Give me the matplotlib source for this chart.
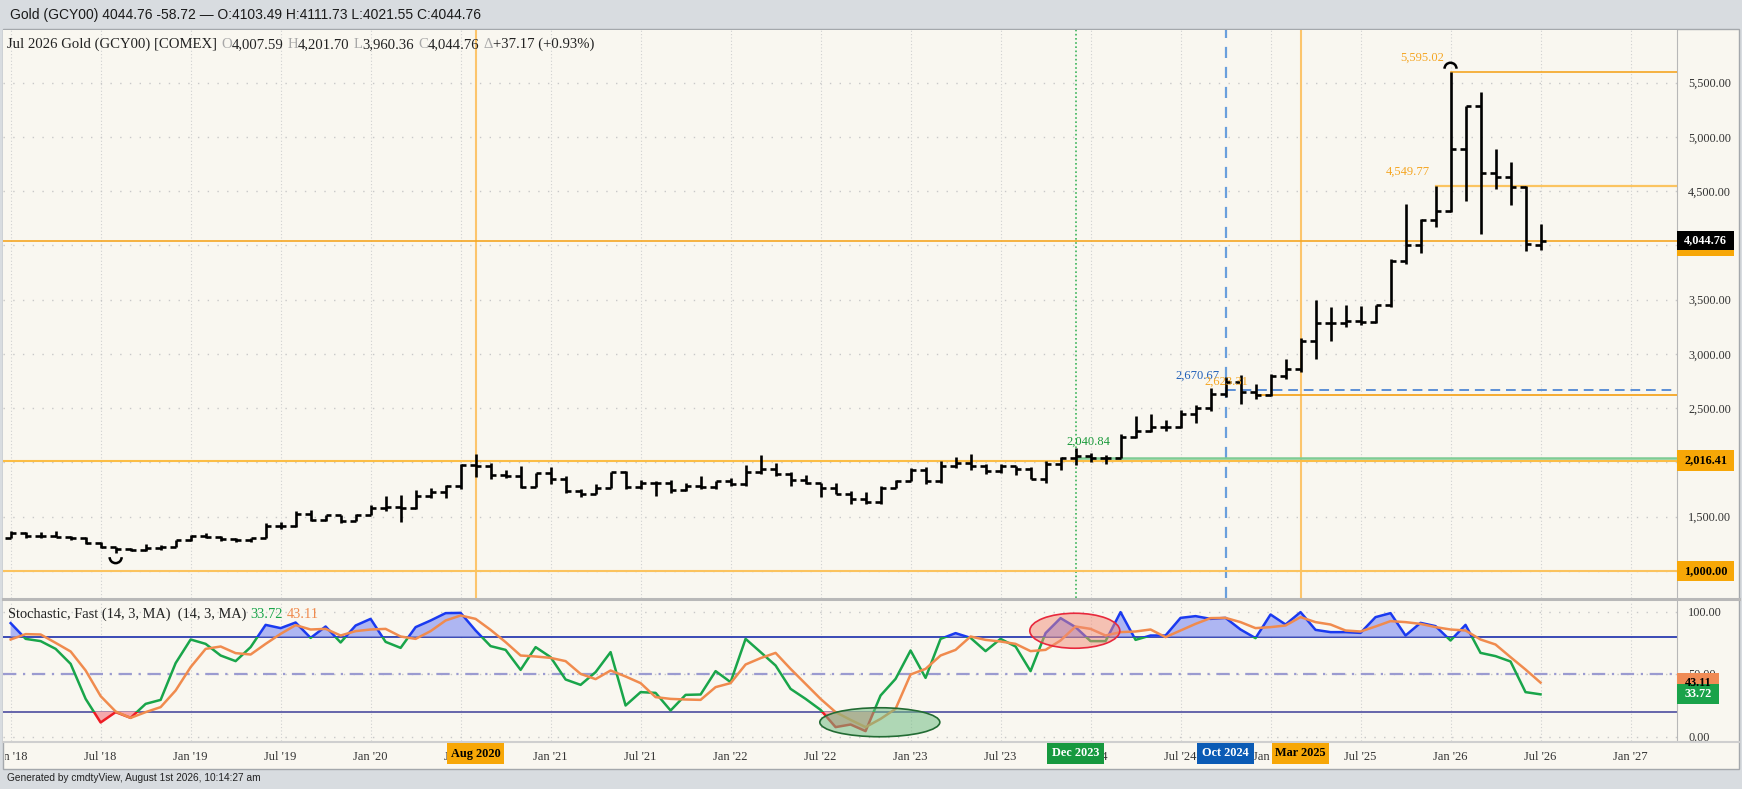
import numpy as np
import matplotlib.pyplot as plt
from matplotlib.patches import Rectangle, Ellipse, Arc
from matplotlib.lines import Line2D
from matplotlib.transforms import blended_transform_factory, IdentityTransform, Bbox

# Gold (GCY00) monthly bars, Jan 2018 .. Jul 2026
opens = [1302.5, 1345.2, 1318.4, 1324.7, 1315.4, 1298.5, 1252.6, 1223.7, 1201.0, 1192.5, 1214.9, 1221.5,
         1282.5, 1321.0, 1313.0, 1292.3, 1283.5, 1305.6, 1409.5, 1413.5, 1520.3, 1472.4, 1513.0, 1463.9,
         1517.3, 1582.9, 1585.7, 1577.2, 1686.2, 1730.3, 1781.0, 1975.9, 1967.6, 1886.9, 1879.1, 1776.5,
         1898.4, 1847.7, 1734.0, 1707.7, 1768.5, 1906.9, 1770.1, 1814.2, 1813.6, 1742.8, 1783.4, 1774.5,
         1829.2, 1796.4, 1909.0, 1937.4, 1896.9, 1837.7, 1807.3, 1765.9, 1711.6, 1660.6, 1633.6, 1768.5,
         1824.0, 1928.4, 1826.9, 1969.3, 1990.0, 1962.7, 1919.4, 1965.1, 1940.2, 1848.6, 1983.9, 2036.4,
         2062.9, 2039.5, 2044.2, 2229.9, 2286.0, 2327.3, 2326.7, 2447.6, 2503.4, 2634.6, 2743.9, 2650.1,
         2624.5, 2798.4, 2857.8, 3123.6, 3288.7, 3289.3, 3303.2, 3290.0, 3447.9, 3858.9, 4004.0, 4230.0,
         4320.0, 4889.0, 5288.0, 4665.0, 4628.0, 4541.0, 4007.59]
highs = [1366.1, 1361.6, 1356.0, 1365.2, 1326.0, 1309.2, 1265.9, 1224.0, 1214.0, 1243.4, 1237.5, 1284.7,
         1326.3, 1346.8, 1324.6, 1303.0, 1306.0, 1439.0, 1452.8, 1555.0, 1557.1, 1516.7, 1515.3, 1524.2,
         1611.4, 1689.3, 1703.4, 1747.7, 1765.2, 1789.1, 1981.3, 2075.1, 1992.3, 1933.3, 1965.4, 1906.5,
         1959.3, 1871.9, 1755.7, 1798.0, 1912.9, 1916.6, 1834.0, 1832.4, 1834.0, 1813.9, 1877.2, 1831.5,
         1853.9, 1974.4, 2070.4, 1998.4, 1909.8, 1879.4, 1814.2, 1807.9, 1735.2, 1729.6, 1786.5, 1833.4,
         1949.2, 1959.7, 2009.7, 2048.8, 2081.8, 1983.5, 1987.5, 1966.0, 1953.0, 2009.5, 2052.0, 2135.4,
         2088.5, 2065.5, 2265.5, 2431.3, 2450.1, 2387.8, 2483.7, 2531.8, 2685.6, 2790.1, 2801.8, 2726.2,
         2817.1, 2956.2, 3148.9, 3500.1, 3435.3, 3451.5, 3439.2, 3452.9, 3871.3, 4381.5, 4245.0, 4549.77,
         5595.02, 5288.0, 5417.0, 4886.0, 4772.0, 4548.0, 4201.70]
lows = [1302.0, 1307.1, 1303.6, 1310.2, 1282.3, 1245.9, 1211.0, 1160.4, 1180.0, 1182.5, 1196.2, 1221.4,
        1276.0, 1302.0, 1280.0, 1266.0, 1266.5, 1301.0, 1382.6, 1400.5, 1459.2, 1458.9, 1445.7, 1455.5,
        1517.0, 1548.0, 1451.0, 1567.0, 1670.7, 1670.8, 1757.6, 1863.2, 1848.8, 1859.6, 1764.6, 1775.7,
        1802.8, 1717.2, 1676.9, 1704.9, 1765.0, 1750.8, 1750.5, 1687.8, 1721.7, 1740.0, 1758.9, 1753.3,
        1780.6, 1786.0, 1890.0, 1872.2, 1786.9, 1805.0, 1680.9, 1709.7, 1614.9, 1617.3, 1616.7, 1765.4,
        1824.0, 1804.8, 1809.5, 1949.2, 1932.1, 1893.1, 1902.8, 1884.9, 1846.4, 1810.5, 1931.6, 1973.1,
        2001.9, 1984.3, 2039.1, 2228.3, 2277.2, 2286.8, 2319.6, 2364.2, 2471.9, 2603.9, 2536.9, 2583.3,
        2614.6, 2772.0, 2832.7, 2956.7, 3120.8, 3246.6, 3268.0, 3281.2, 3436.4, 3830.0, 3933.0, 4173.0,
        4310.0, 4410.0, 4105.0, 4517.0, 4373.0, 3952.0, 3960.36]
closes = [1345.2, 1318.4, 1324.7, 1315.4, 1298.5, 1252.6, 1223.7, 1201.0, 1192.5, 1214.9, 1221.5, 1282.5,
          1321.0, 1313.0, 1292.3, 1283.5, 1305.6, 1409.5, 1413.5, 1520.3, 1472.4, 1513.0, 1463.9, 1517.3,
          1582.9, 1585.7, 1577.2, 1686.2, 1730.3, 1781.0, 1975.9, 1967.6, 1886.9, 1879.1, 1776.5, 1898.4,
          1847.7, 1734.0, 1707.7, 1768.5, 1906.9, 1770.1, 1814.2, 1813.6, 1742.8, 1783.4, 1774.5, 1829.2,
          1796.4, 1909.0, 1937.4, 1896.9, 1837.7, 1807.3, 1765.9, 1711.6, 1660.6, 1633.6, 1768.5, 1824.0,
          1928.4, 1826.9, 1969.3, 1990.0, 1962.7, 1919.4, 1965.1, 1940.2, 1848.6, 1983.9, 2036.4, 2062.9,
          2039.5, 2044.2, 2229.9, 2286.0, 2327.3, 2326.7, 2447.6, 2503.4, 2634.6, 2743.9, 2650.1, 2624.5,
          2798.4, 2857.8, 3123.6, 3288.7, 3289.3, 3303.2, 3290.0, 3447.9, 3858.9, 4004.0, 4230.0, 4320.0,
          4889.0, 5288.0, 4665.0, 4628.0, 4541.0, 4010.0, 4044.76]

# Stochastic, Fast (14, 3, MA): %K and %D per month
stoch_k = [90.7, 78.1, 76.3, 70.1, 58.1, 30.1, 11.2, 19.5, 14.9, 26.1, 29.3, 58.7,
           77.6, 74.1, 64.8, 60.3, 71.5, 89.3, 86.7, 91.2, 78.9, 88.0, 75.2, 88.8,
           94.1, 75.7, 70.9, 87.5, 92.8, 98.7, 98.9, 84.8, 72.3, 69.3, 53.3, 71.5,
           63.5, 45.6, 41.3, 51.5, 67.5, 24.8, 35.5, 34.9, 20.8, 33.3, 33.6, 52.3,
           43.5, 78.1, 67.5, 56.8, 38.1, 30.1, 21.3, 7.5, 9.6, 4.3, 32.8, 46.1,
           68.8, 46.9, 78.1, 82.7, 78.9, 68.3, 78.1, 72.0, 52.3, 82.7, 94.7, 87.5,
           76.3, 76.3, 99.5, 77.3, 80.8, 80.8, 94.9, 96.3, 94.1, 94.9, 85.6, 78.7,
           97.6, 89.6, 99.5, 85.3, 83.5, 83.5, 82.9, 95.5, 98.7, 80.8, 90.9, 88.3,
           76.8, 89.3, 66.9, 64.3, 60.0, 35.5, 33.72]
stoch_d = [77.6, 81.9, 81.6, 74.9, 68.0, 52.8, 32.3, 20.0, 14.9, 19.5, 23.5, 36.8,
           55.5, 70.1, 72.0, 66.7, 65.6, 74.1, 82.1, 89.1, 85.6, 86.1, 80.8, 84.3,
           85.6, 86.1, 80.0, 78.1, 84.3, 92.8, 96.8, 94.1, 85.3, 75.5, 64.8, 64.0,
           62.9, 60.3, 50.1, 45.9, 52.8, 48.0, 42.7, 31.5, 30.1, 29.6, 29.3, 39.5,
           42.7, 57.6, 62.7, 66.9, 54.1, 42.1, 30.1, 19.5, 13.3, 7.5, 14.1, 22.1,
           49.6, 54.1, 64.8, 69.3, 80.0, 77.3, 76.0, 74.1, 68.3, 69.3, 76.8, 88.0,
           86.1, 80.8, 83.5, 84.0, 85.6, 79.5, 84.8, 90.1, 94.7, 94.9, 91.5, 86.7,
           87.5, 88.8, 95.5, 91.5, 89.6, 84.8, 84.0, 88.0, 92.3, 91.5, 90.1, 87.5,
           85.6, 84.8, 77.6, 73.6, 63.5, 53.6, 43.11]

tick_months = list(range(0, 109, 6))
tick_labels = ["Jan '18", "Jul '18", "Jan '19", "Jul '19", "Jan '20", "Jul '20", "Jan '21",
               "Jul '21", "Jan '22", "Jul '22", "Jan '23", "Jul '23", "Jan '24", "Jul '24",
               "Jan '25", "Jul '25", "Jan '26", "Jul '26", "Jan '27"]

# highlighted dates (month index from Jan 2018)
event_months = [31, 71, 81, 86]
event_labels = ["Aug 2020", "Dec 2023", "Oct 2024", "Mar 2025"]

# drawn price levels that start at a bar and run to the right edge
level_prices = [5595.02, 4549.77, 2670.67, 2623.31, 2040.84]
level_starts = [96, 95, 81, 83, 71]
level_texts = ["5,595.02", "4,549.77", "2,670.67", "2,623.31", "2,040.84"]
full_levels = [4044.76, 2016.41, 1000.00]

title = "Gold (GCY00) 4044.76 -58.72 \u2014 O:4103.49 H:4111.73 L:4021.55 C:4044.76"

CREAM = '#f9f7f0'
BG = '#d8dce0'
ORANGE = '#f5a623'
LIGHT_OR = '#fcc56c'
K_GREEN = '#19a54a'
K_BLUE = '#1a3af0'
K_RED = '#ee1c24'
D_ORANGE = '#f08b4e'
TXT = '#222222'
SERIF = ['Liberation Serif', 'DejaVu Serif']
SANS = ['Liberation Sans', 'DejaVu Sans']

W, H = 1742, 789
fig = plt.figure(figsize=(W / 100, H / 100), dpi=100, facecolor=BG)


def rect(x0, y0, x1, y1):
    # pixel box with top-left origin -> figure fraction rect
    return [x0 / W, 1 - y1 / H, (x1 - x0) / W, (y1 - y0) / H]


fig.add_artist(Rectangle((3 / W, 1 - 769 / H), 1736 / W, 740 / H, transform=fig.transFigure,
                         fc=CREAM, ec='#a4a8ac', lw=1, zorder=-5))

ax = fig.add_axes(rect(3, 30, 1677, 598), facecolor=CREAM)
st = fig.add_axes(rect(3, 601, 1677, 741), facecolor=CREAM)

for a in (ax, st):
    for s in a.spines.values():
        s.set_visible(False)
    a.spines['right'].set_visible(True)
    a.spines['right'].set_color('#b8b8b8')
    a.set_xlim(-0.51, 111.1)
    a.set_xticks(tick_months)
    a.tick_params(axis='x', labelbottom=False, length=0)
    a.yaxis.tick_right()
    a.tick_params(axis='y', length=0, pad=8, labelsize=8.8, labelcolor='#333333')
    a.set_axisbelow(True)
    a.grid(axis='x', color='#d0d0d0', ls=(0, (1, 2)), lw=0.8)
    a.grid(axis='y', color='#c8c8c8', ls=(0, (1, 6)), lw=1.0)

fig.add_artist(Line2D([3 / W, 1739 / W], [1 - 599 / H] * 2, color='#b8b8b8', lw=2.2))
fig.add_artist(Line2D([3 / W, 1739 / W], [1 - 741.5 / H] * 2, color='#cfcfcf', lw=1.5))

# ---- price panel
ax.set_ylim(750, 5986)
price_ticks = list(range(1000, 5501, 500))
ax.set_yticks(price_ticks,
              labels=['' if v in (1000, 2000, 4000) else f"{v:,.2f}" for v in price_ticks],
              family=SERIF)

x = np.arange(len(closes))
ax.vlines(x, lows, highs, color='black', lw=1.9, zorder=4)
ax.hlines(opens, x - 0.37, x, color='black', lw=1.9, zorder=4)
ax.hlines(closes, x, x + 0.37, color='black', lw=1.9, zorder=4)

# markers on the extreme bars
i_hi = int(np.argmax(highs))
i_lo = int(np.argmin(lows))
ax.add_patch(Arc((i_hi, highs[i_hi] + 34), 0.8, 110, theta1=0, theta2=180, color='black', lw=1.8, zorder=5))
ax.add_patch(Arc((i_lo, lows[i_lo] - 34), 0.8, 110, theta1=180, theta2=360, color='black', lw=1.8, zorder=5))

vstyles = [dict(color=LIGHT_OR, lw=1.5, ls='-'),
           dict(color='#3cb45a', lw=1.2, ls=(0, (1, 1.5))),
           dict(color='#6a9fdc', lw=1.6, ls=(0, (5, 4))),
           dict(color=LIGHT_OR, lw=1.5, ls='-')]
for m, sty in zip(event_months, vstyles):
    ax.axvline(m, zorder=3, **sty)

ax.axhline(full_levels[0], color=ORANGE, lw=1.2, zorder=3)
ax.axhline(full_levels[1], color='#fbbd45', lw=1.5, zorder=3)
ax.axhline(full_levels[2], color='#fbc35e', lw=1.5, zorder=3)

lstyles = [dict(color=ORANGE, lw=1.2, ls='-'),
           dict(color='#fbc460', lw=1.6, ls='-'),
           dict(color='#5b8fd6', lw=1.4, ls=(0, (5, 3))),
           dict(color=ORANGE, lw=1.3, ls='-'),
           dict(color='#7fcc94', lw=1.8, ls='-')]
lcolors = [ORANGE, ORANGE, '#1f5fb8', ORANGE, '#1a9a3a']
loffsets = [(-6.6, 14.4), (-5.6, 13.8), (-5.6, 14.0), (-7.6, 13.0), (35, 16)]
x0, x1 = ax.get_xlim()
for p, s0, txt, sty, c, (dx, dy) in zip(level_prices, level_starts, level_texts,
                                         lstyles, lcolors, loffsets):
    ax.axhline(p, xmin=(s0 - x0) / (x1 - x0), xmax=1, zorder=3, **sty)
    ax.annotate(txt, xy=(s0, p), xytext=(dx * 0.72, dy * 0.72), textcoords='offset points',
                ha='right', va='center', color=c, fontsize=9, family=SERIF, zorder=6)

# ---- stochastic panel
st.set_ylim(-3.6, 108.4)
st.set_yticks([0, 50, 100], labels=['0.00', '50.00', '100.00'], family=SERIF)
k = np.array(stoch_k)
d = np.array(stoch_d)
st.axhline(80, color='#2b3cb0', lw=1.3, zorder=2)
st.axhline(20, color='#5a5aa5', lw=1.3, zorder=2)
st.axhline(50, color='#9b9bd0', lw=1.6, ls=(0, (6, 3, 1, 3)), zorder=2)
st.fill_between(x, k, 80, where=k >= 80, interpolate=True, color='#aeb6f2', lw=0, zorder=2)
st.fill_between(x, k, 20, where=k <= 20, interpolate=True, color='#f5a8ac', lw=0, zorder=2)
for col, lo, hi in [(K_GREEN, 20, 80), (K_BLUE, 80, 200), (K_RED, -50, 20)]:
    ln, = st.plot(x, k, color=col, lw=1.8, zorder=4)
    ln.set_clip_path(Rectangle((-5, lo), 200, hi - lo, transform=st.transData))
st.plot(x, d, color=D_ORANGE, lw=1.8, zorder=5)

st.add_patch(Ellipse((57.95, 11.4), 8.0, 23.2, fc=(0.45, 0.74, 0.52, 0.55), ec='#226b33', lw=1.2, zorder=6))
st.add_patch(Ellipse((70.95, 84.6), 6.0, 28.0, fc=(0.95, 0.55, 0.47, 0.5), ec='#e8283c', lw=1.2, zorder=6))


# ---- texts
def chain(a, xpix, ypix, pieces, size):
    s, c, _ = pieces[0]
    t = a.text(xpix / W, 1 - ypix / H, s, transform=fig.transFigure, color=c, fontsize=size,
               family=SERIF, va='bottom', ha='left', zorder=8)
    for s, c, gap in pieces[1:]:
        t = a.annotate(s, xy=(1, 0), xycoords=t, xytext=(gap, 0), textcoords='offset points',
                       color=c, fontsize=size, family=SERIF, va='bottom', ha='left', zorder=8)


G = '#a8a8a8'
chain(ax, 7, 51, [("Jul 2026 Gold (GCY00) [COMEX]", TXT, 0), ("O", G, 2.8), ("4,007.59", TXT, 0),
                  ("H", G, 2.8), ("4,201.70", TXT, 0), ("L", G, 2.8), ("3,960.36", TXT, 0),
                  ("C", G, 2.8), ("4,044.76", TXT, 0), ("\u0394", G, 2.8),
                  ("+37.17 (+0.93%)", TXT, 0)], 10.6)
chain(st, 8, 621, [("Stochastic, Fast (14, 3, MA)  (14, 3, MA)", TXT, 0),
                   ("33.72", K_GREEN, 2.8), ("43.11", D_ORANGE, 2.8)], 10.4)

fig.text(10 / W, 1 - 15 / H, title, fontsize=10, family=SANS, va='center', color='#1a1a1a')
fig.text(7 / W, 1 - 778 / H, "Generated by cmdtyView, August 1st 2026, 10:14:27 am",
         fontsize=7.3, family=SANS, va='center', color='#222222')

trans = blended_transform_factory(st.transData, fig.transFigure)
clip = Bbox([[5, 0], [1739, H]])
for m, lab in zip(tick_months, tick_labels):
    t = fig.text(m, 1 - 757.5 / H, lab, transform=trans, ha='center', va='center',
                 fontsize=9, family=SERIF, color='#333333')
    t.set_clip_box(clip)
    t.set_clip_on(True)

ev_colors = [('#f7a707', 'black'), ('#17993f', 'white'), ('#0b5bb5', 'white'), ('#f7a707', 'black')]
for m, lab, (fc, tc) in zip(event_months, event_labels, ev_colors):
    xd = st.transData.transform((m, 0))[0]
    yd = H - 753.5
    fig.add_artist(Rectangle((xd - 28.5, yd - 10.75), 57, 21.5, transform=IdentityTransform(),
                             fc=fc, ec='none', zorder=20))
    fig.text(xd, yd, lab, transform=IdentityTransform(), ha='center', va='center', color=tc,
             fontsize=8.8, family=SERIF, weight='bold', zorder=21)


def tag(a, val, text, fc, tc, w, h, strip=None):
    yd = a.transData.transform((0, val))[1]
    xd = a.transAxes.transform((1, 0))[0]
    fig.add_artist(Rectangle((xd, yd - h / 2), w, h, transform=IdentityTransform(),
                             fc=fc, ec='none', zorder=20))
    if strip:
        fig.add_artist(Rectangle((xd, yd - h / 2 - 6), w, 6, transform=IdentityTransform(),
                                 fc=strip, ec='none', zorder=20))
    fig.text(xd + w / 2, yd, text, transform=IdentityTransform(), ha='center', va='center',
             color=tc, fontsize=8.8, family=SERIF, weight='bold', zorder=21)


tag(ax, full_levels[0], "4,044.76", 'black', 'white', 57, 19.5, strip='#f7a707')
tag(ax, full_levels[1], "2,016.41", '#f7a707', 'black', 57, 20.5)
tag(ax, full_levels[2], "1,000.00", '#f7a707', 'black', 57, 20.5)
tag(st, stoch_d[-1], "43.11", '#f08b55', 'black', 42, 20)
tag(st, stoch_k[-1], "33.72", '#1aa34a', 'white', 42, 20)

fig.savefig('out.png', dpi=100, facecolor=BG)
